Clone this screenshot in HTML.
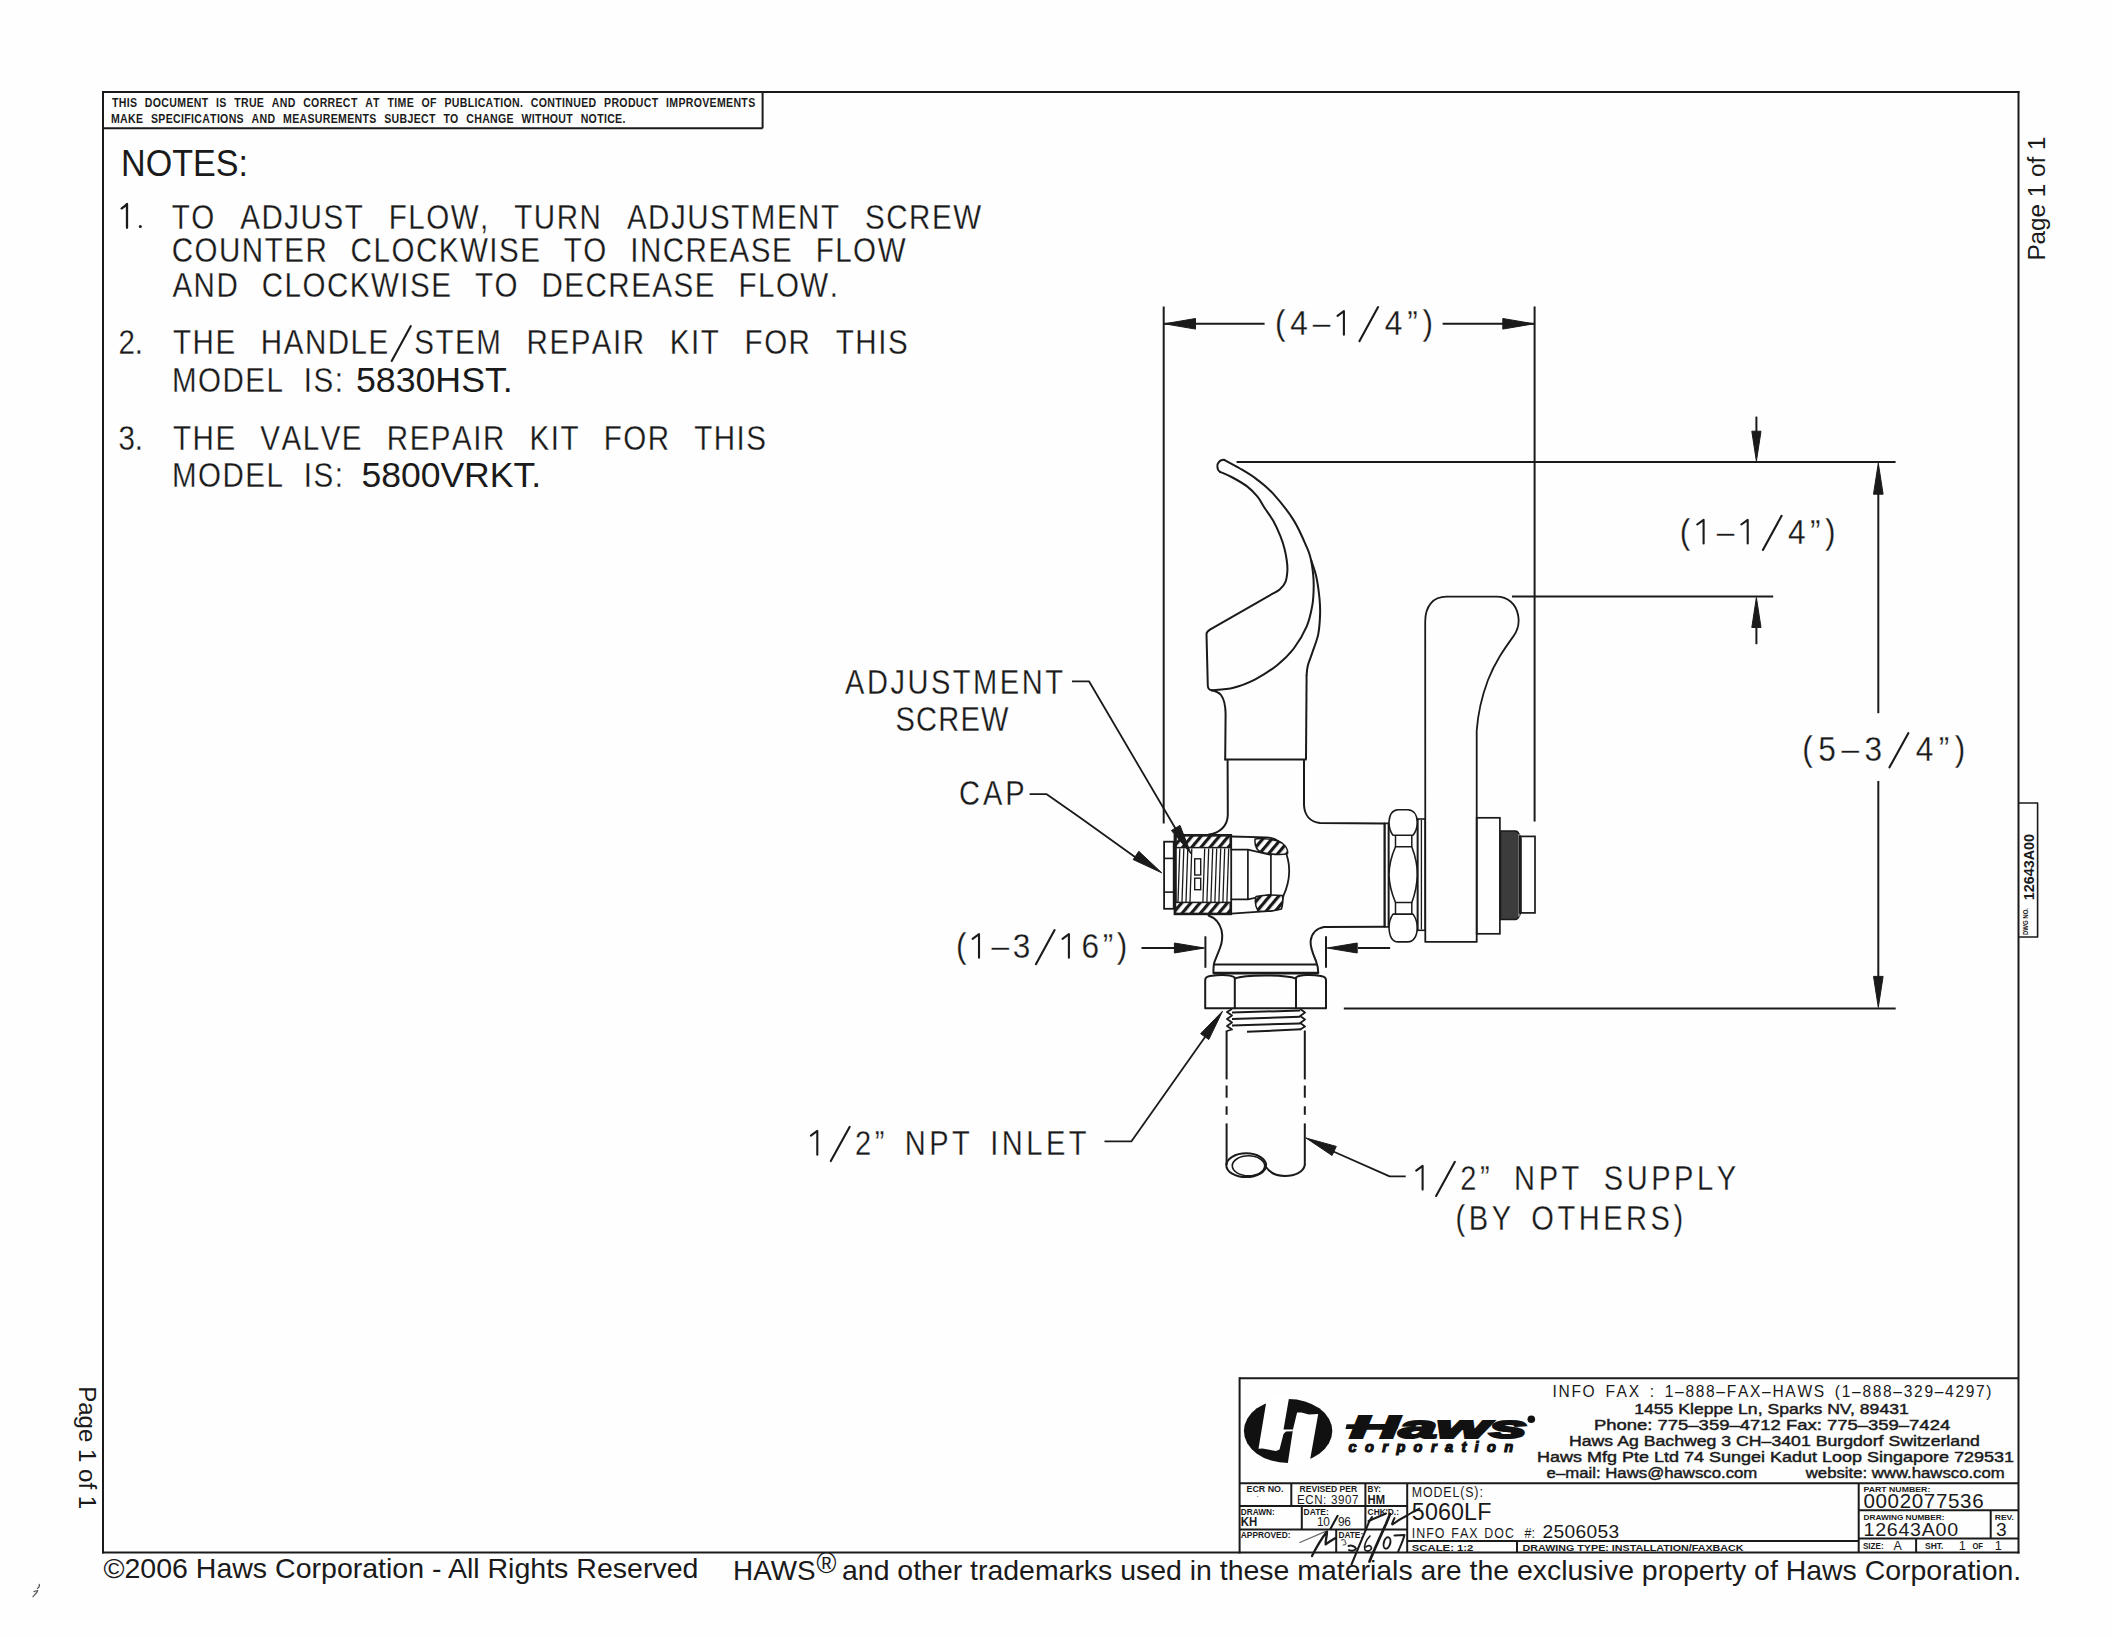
<!DOCTYPE html>
<html><head><meta charset="utf-8"><title>Haws 5060LF</title>
<style>
html,body{margin:0;padding:0;background:#fff;}
body{width:2112px;height:1637px;overflow:hidden;position:relative;font-family:"Liberation Sans",sans-serif;}
svg{position:absolute;left:0;top:0;display:block;}
</style></head><body>
<svg width="2112" height="1637" viewBox="0 0 2112 1637">
<rect x="0" y="0" width="2112" height="1637" fill="#fefefe"/>
<g id="frame">
<line x1="102" y1="92" x2="2019.5" y2="92" stroke="#1a1a1a" stroke-width="2.0" />
<line x1="103" y1="91" x2="103" y2="1553.5" stroke="#1a1a1a" stroke-width="2.0" />
<line x1="2018.5" y1="91" x2="2018.5" y2="1553.5" stroke="#1a1a1a" stroke-width="2.0" />
<line x1="102" y1="1552.5" x2="2019.5" y2="1552.5" stroke="#1a1a1a" stroke-width="2.0" />
<line x1="102.5" y1="128.3" x2="762.6" y2="128.3" stroke="#1a1a1a" stroke-width="2.0" />
<line x1="762.6" y1="91.5" x2="762.6" y2="128.3" stroke="#1a1a1a" stroke-width="2.0" />
</g>
<g transform="translate(112,106.5) scale(0.8,1)"><text x="0 8.5 18.4 22.4 41.1 51 61.7 71.6 81.6 93 102.1 112.1 130 134.1 152.7 161.2 171.1 181.1 199.7 209.7 219.6 239 248.9 259.6 269.5 279.4 288.6 298.6 316.5 326.4 344.4 352.8 356.9 368.3 386.9 397.6 415.6 424.7 434.7 444.6 453.1 457.1 467 477 485.4 489.5 500.1 510.1 523.6 533.5 544.2 554.1 562.6 566.6 576.5 586.5 595.7 615.1 624.3 634.2 644.9 654.8 664.7 674.6 692.6 696.6 708 717.2 727.1 737.8 747 756.2 767.6 776.8 786.7 795.2" y="0" font-family="Liberation Sans" font-size="13.2" font-weight="bold" font-style="normal" fill="#1a1a1a" >THISDOCUMENTISTRUEANDCORRECTATTIMEOFPUBLICATION.CONTINUEDPRODUCTIMPROVEMENTS</text></g>
<g transform="translate(111,122.8) scale(0.8,1)"><text x="0 11.4 21.3 31.2 50 59.2 68.4 77.6 87.5 91.6 100 104.1 114 123.9 132.4 136.4 147.1 157 175.7 185.7 195.6 215.1 226.5 235.7 245.6 254.8 264.7 274.6 283.8 295.2 304.4 314.4 322.8 341.6 350.7 360.7 370.6 378.3 387.5 397.5 415.5 423.9 444.1 454 464 473.9 483.8 494.5 513.2 526.1 530.1 538.6 548.5 559.2 569.1 587.1 597 607.7 616.2 620.2 630.1 639.3" y="0" font-family="Liberation Sans" font-size="13.2" font-weight="bold" font-style="normal" fill="#1a1a1a" >MAKESPECIFICATIONSANDMEASUREMENTSSUBJECTTOCHANGEWITHOUTNOTICE.</text></g>
<text x="121" y="175.8" font-family="Liberation Sans" font-size="37.2" font-weight="normal" font-style="normal" fill="#1a1a1a" text-anchor="start" textLength="127" lengthAdjust="spacingAndGlyphs" >NOTES:</text>
<path d="M121.6,208.4 C123.5,207.3 125.5,205.8 127,204 L127,227.8" fill="none" stroke="#1a1a1a" stroke-width="2.3" stroke-linejoin="round" stroke-linecap="round" />
<circle cx="140.3" cy="226.6" r="1.5" fill="#1a1a1a"/>
<g transform="translate(171.7,228.5) scale(0.84,1)"><text x="0 23.3 81.6 106.9 134.1 153.4 180.6 205.9 258.3 281.6 303 332.1 367.1 407.8 431.1 458.3 485.5 541.9 567.1 594.3 613.7 640.9 666.1 689.4 720.5 745.7 772.9 825.4 850.6 877.8 905 930.3" y="0" font-family="Liberation Sans" font-size="35.2" font-weight="normal" font-style="normal" fill="#1a1a1a" stroke="#fff" stroke-width="0.25" >TOADJUSTFLOW,TURNADJUSTMENTSCREW</text></g>
<g transform="translate(171.7,262.4) scale(0.84,1)"><text x="0 27.2 56.3 83.5 110.7 134 159.2 213 240.2 261.6 290.7 317.9 343.2 378.1 389.7 415 466.8 490.1 545.9 557.4 584.6 611.8 639 664.2 689.5 714.7 766.6 789.9 811.2 840.4" y="0" font-family="Liberation Sans" font-size="35.2" font-weight="normal" font-style="normal" fill="#1a1a1a" stroke="#fff" stroke-width="0.25" >COUNTERCLOCKWISETOINCREASEFLOW</text></g>
<g transform="translate(172.4,297) scale(0.84,1)"><text x="0 25.2 52.4 106.3 133.5 154.9 184 211.2 236.5 271.4 283 308.2 360.2 383.5 439.3 466.5 491.8 519 546.2 571.4 596.6 621.9 673.9 697.1 718.5 747.6 782.6" y="0" font-family="Liberation Sans" font-size="35.2" font-weight="normal" font-style="normal" fill="#1a1a1a" stroke="#fff" stroke-width="0.25" >ANDCLOCKWISETODECREASEFLOW.</text></g>
<g transform="translate(118.5,354.4) scale(0.84,1)"><text x="0 19.4" y="0" font-family="Liberation Sans" font-size="35.2" font-weight="normal" font-style="normal" fill="#1a1a1a" stroke="#fff" stroke-width="0.25" >2.</text></g>
<line x1="391.7" y1="360.9" x2="410.8" y2="326.1" stroke="#1a1a1a" stroke-width="2.1" stroke-linecap="round"/>
<g transform="translate(173,354.4) scale(0.84,1)"><text x="0 23.3 50.5 104.6 131.8 157.1 184.2 211.4 232.8 287.2 312.4 335.7 360.9 420.9 448.1 473.4 498.6 523.9 535.4 591.5 616.8 628.3 680.5 703.8 732.9 789 812.3 839.5 851.1" y="0" font-family="Liberation Sans" font-size="35.2" font-weight="normal" font-style="normal" fill="#1a1a1a" stroke="#fff" stroke-width="0.25" >THEHANDLESTEMREPAIRKITFORTHIS</text></g>
<g transform="translate(171.9,391.9) scale(0.84,1)"><text x="0 31.1 60.2 87.4 112.7 157 168.6 193.8" y="0" font-family="Liberation Sans" font-size="35.2" font-weight="normal" font-style="normal" fill="#1a1a1a" stroke="#fff" stroke-width="0.25" >MODELIS:</text></g>
<text x="355.9" y="392.3" font-family="Liberation Sans" font-size="34.9" font-weight="normal" font-style="normal" fill="#1a1a1a" text-anchor="start" textLength="156.9" lengthAdjust="spacingAndGlyphs" >5830HST.</text>
<g transform="translate(118.5,449.6) scale(0.84,1)"><text x="0 19.4" y="0" font-family="Liberation Sans" font-size="35.2" font-weight="normal" font-style="normal" fill="#1a1a1a" stroke="#fff" stroke-width="0.25" >3.</text></g>
<g transform="translate(173,449.6) scale(0.84,1)"><text x="0 23.3 50.5 103.9 129.2 154.4 175.8 201 254.5 281.7 306.9 332.2 357.4 369 424.4 449.6 461.2 512.7 535.9 565.1 620.5 643.7 670.9 682.5" y="0" font-family="Liberation Sans" font-size="35.2" font-weight="normal" font-style="normal" fill="#1a1a1a" stroke="#fff" stroke-width="0.25" >THEVALVEREPAIRKITFORTHIS</text></g>
<g transform="translate(171.9,486.6) scale(0.84,1)"><text x="0 31.1 60.2 87.4 112.7 157 168.6 193.8" y="0" font-family="Liberation Sans" font-size="35.2" font-weight="normal" font-style="normal" fill="#1a1a1a" stroke="#fff" stroke-width="0.25" >MODELIS:</text></g>
<text x="361.4" y="486.6" font-family="Liberation Sans" font-size="34.9" font-weight="normal" font-style="normal" fill="#1a1a1a" text-anchor="start" textLength="179.7" lengthAdjust="spacingAndGlyphs" >5800VRKT.</text>
<g transform="translate(2045.2,260.6) rotate(-90)">
<text x="0" y="0" font-family="Liberation Sans" font-size="24.4" font-weight="normal" font-style="normal" fill="#1a1a1a" text-anchor="start" textLength="124.2" lengthAdjust="spacingAndGlyphs" >Page 1 of 1</text>
</g>
<g transform="translate(79.3,1386.2) rotate(90)">
<text x="0" y="0" font-family="Liberation Sans" font-size="24.4" font-weight="normal" font-style="normal" fill="#1a1a1a" text-anchor="start" textLength="123" lengthAdjust="spacingAndGlyphs" >Page 1 of 1</text>
</g>
<text x="103.4" y="1577.6" font-family="Liberation Sans" font-size="27.8" font-weight="normal" font-style="normal" fill="#1a1a1a" text-anchor="start" textLength="595" lengthAdjust="spacingAndGlyphs" >©2006 Haws Corporation - All Rights Reserved</text>
<text x="733.1" y="1579.8" font-family="Liberation Sans" font-size="27.8" font-weight="normal" font-style="normal" fill="#1a1a1a" text-anchor="start" textLength="82.4" lengthAdjust="spacingAndGlyphs" >HAWS</text>
<text x="816.5" y="1572.7" font-family="Liberation Sans" font-size="29.2" font-weight="normal" font-style="normal" fill="#1a1a1a" text-anchor="start" textLength="19.9" lengthAdjust="spacingAndGlyphs" >®</text>
<text x="842" y="1579.8" font-family="Liberation Sans" font-size="27.8" font-weight="normal" font-style="normal" fill="#1a1a1a" text-anchor="start" textLength="1179.2" lengthAdjust="spacingAndGlyphs" >and other trademarks used in these materials are the exclusive property of Haws Corporation.</text>
<line x1="1163.7" y1="306.5" x2="1163.7" y2="823.4" stroke="#1a1a1a" stroke-width="2.0" />
<line x1="1534.6" y1="306.5" x2="1534.6" y2="821.5" stroke="#1a1a1a" stroke-width="2.0" />
<line x1="1163.7" y1="323.8" x2="1264.6" y2="323.8" stroke="#1a1a1a" stroke-width="2.0" />
<line x1="1442.6" y1="323.8" x2="1534.6" y2="323.8" stroke="#1a1a1a" stroke-width="2.0" />
<path d="M1164.5,323.8 L1195.5,318.5 L1195.5,329.1 Z" fill="#1a1a1a" stroke="#1a1a1a" stroke-width="1"/>
<path d="M1533.8,323.8 L1502.8,329.1 L1502.8,318.5 Z" fill="#1a1a1a" stroke="#1a1a1a" stroke-width="1"/>
<path d="M1337.5,315.8 L1343.9,311.1 L1343.9,334.8" fill="none" stroke="#1a1a1a" stroke-width="2.1" stroke-linecap="round" stroke-linejoin="round"/>
<line x1="1359.4" y1="341.2" x2="1378.1" y2="307.1" stroke="#1a1a1a" stroke-width="2.1" stroke-linecap="round"/>
<g transform="translate(1275,334.8) scale(0.92,1)"><text x="0 16.7 41 119.4 143.7 160.4" y="0" font-family="Liberation Sans" font-size="34.4" font-weight="normal" font-style="normal" fill="#1a1a1a" stroke="#fff" stroke-width="0.25" >(4–4”)</text></g>
<line x1="1236.6" y1="462.1" x2="1895.6" y2="462.1" stroke="#1a1a1a" stroke-width="2.0" />
<line x1="1512" y1="596.5" x2="1773.2" y2="596.5" stroke="#1a1a1a" stroke-width="2.0" />
<line x1="1756.4" y1="416.6" x2="1756.4" y2="440" stroke="#1a1a1a" stroke-width="2.0" />
<path d="M1756.4,461.2 L1751.8,431.2 L1761,431.2 Z" fill="#1a1a1a" stroke="#1a1a1a" stroke-width="1"/>
<line x1="1756.4" y1="620" x2="1756.4" y2="644.2" stroke="#1a1a1a" stroke-width="2.0" />
<path d="M1756.4,597.5 L1761,627.5 L1751.8,627.5 Z" fill="#1a1a1a" stroke="#1a1a1a" stroke-width="1"/>
<path d="M1697.2,524.5 L1703.6,519.8 L1703.6,543.5" fill="none" stroke="#1a1a1a" stroke-width="2.1" stroke-linecap="round" stroke-linejoin="round"/>
<path d="M1741.3,524.5 L1747.7,519.8 L1747.7,543.5" fill="none" stroke="#1a1a1a" stroke-width="2.1" stroke-linecap="round" stroke-linejoin="round"/>
<line x1="1762.9" y1="549.9" x2="1781.6" y2="515.8" stroke="#1a1a1a" stroke-width="2.1" stroke-linecap="round"/>
<g transform="translate(1679.8,543.5) scale(0.92,1)"><text x="0 40.3 117.5 141.5 157.8" y="0" font-family="Liberation Sans" font-size="34.4" font-weight="normal" font-style="normal" fill="#1a1a1a" stroke="#fff" stroke-width="0.25" >(–4”)</text></g>
<line x1="1878.3" y1="480" x2="1878.3" y2="713.2" stroke="#1a1a1a" stroke-width="2.0" />
<path d="M1878.3,463.2 L1883.1,494.2 L1873.5,494.2 Z" fill="#1a1a1a" stroke="#1a1a1a" stroke-width="1"/>
<line x1="1878.3" y1="781" x2="1878.3" y2="990" stroke="#1a1a1a" stroke-width="2.0" />
<path d="M1878.3,1007.4 L1873.5,976.4 L1883.1,976.4 Z" fill="#1a1a1a" stroke="#1a1a1a" stroke-width="1"/>
<line x1="1889.5" y1="767.3" x2="1908.3" y2="733.2" stroke="#1a1a1a" stroke-width="2.1" stroke-linecap="round"/>
<g transform="translate(1802.2,760.9) scale(0.92,1)"><text x="0 17.5 42.6 67.7 123.3 148.5 165.9" y="0" font-family="Liberation Sans" font-size="34.4" font-weight="normal" font-style="normal" fill="#1a1a1a" stroke="#fff" stroke-width="0.25" >(5–34”)</text></g>
<line x1="1343.8" y1="1008.4" x2="1895.7" y2="1008.4" stroke="#1a1a1a" stroke-width="2.0" />
<path d="M1224.3,459.9 C1226.9,461.3 1234.6,465.3 1240,468.5 C1245.4,471.7 1251,474.9 1256.5,479.1 C1262,483.3 1266.9,486.7 1273.1,493.6 C1279.3,500.5 1288.2,511.4 1293.9,520.6 C1299.6,529.8 1304.5,542.1 1307.4,548.7 C1310.3,555.3 1309.6,555.3 1311.1,560 C1312.6,564.7 1314.9,570.3 1316.3,576.7 C1317.7,583.1 1318.9,592.3 1319.5,598.5 C1320.1,604.7 1320.3,607.9 1320.1,613.9 C1319.9,619.9 1319.5,628 1318.2,634.4 C1316.9,640.8 1314.1,647.3 1312.4,652.4 C1310.7,657.5 1308.9,661.4 1307.9,665.2 C1306.9,669 1306.8,673.4 1306.6,675" fill="none" stroke="#1a1a1a" stroke-width="2.0" stroke-linejoin="round" stroke-linecap="round" />
<line x1="1306.6" y1="675" x2="1306" y2="759.5" stroke="#1a1a1a" stroke-width="2.0" />
<path d="M1224.3,459.9 C1220,459.5 1217,463 1217.4,467 C1217.7,470 1219,471.3 1220.1,471.8" fill="none" stroke="#1a1a1a" stroke-width="2.0" stroke-linejoin="round" stroke-linecap="round" />
<path d="M1220.1,471.8 C1222,472.7 1227,474.6 1231.5,477 C1236,479.4 1242.8,483.1 1247.1,486.4 C1251.4,489.7 1254.5,493.1 1257.5,496.7 C1260.5,500.3 1262.2,504.2 1264.8,508.2 C1267.4,512.2 1270.5,515.9 1273.1,520.6 C1275.7,525.3 1278.5,531.5 1280.4,536.2 C1282.3,540.9 1283.5,544.7 1284.5,548.7 C1285.5,552.7 1286.2,556.4 1286.7,560 C1287.2,563.6 1287.6,566.7 1287.4,570.3 C1287.2,573.9 1286.8,578.6 1285.5,581.8 C1284.2,585 1282,587.5 1279.7,589.5 C1277.5,591.5 1273.3,593.2 1272,594" fill="none" stroke="#1a1a1a" stroke-width="2.0" stroke-linejoin="round" stroke-linecap="round" />
<line x1="1272" y1="594" x2="1210.4" y2="629.3" stroke="#1a1a1a" stroke-width="2.0" />
<path d="M1210.4,629.3 C1207.5,631 1206.5,632 1206.5,634 L1207.8,685.8 C1208,688.5 1209,690 1211.5,690.2" fill="none" stroke="#1a1a1a" stroke-width="2.0" stroke-linejoin="round" stroke-linecap="round" />
<path d="M1211.5,690.2 C1215.2,689.8 1226.2,689.5 1233.5,687.7 C1240.8,685.9 1248,683 1255.3,679.3 C1262.6,675.5 1270.7,670.3 1277.1,665.2 C1283.5,660.1 1288.9,654.9 1293.8,648.5 C1298.7,642.1 1303.5,634 1306.6,626.7 C1309.7,619.4 1311.2,611.7 1312.4,604.9 C1313.6,598.1 1313.6,591.1 1313.7,585.7 C1313.8,580.4 1313.4,577.1 1313,572.8 C1312.6,568.5 1311.4,562.1 1311.1,560" fill="none" stroke="#1a1a1a" stroke-width="2.0" stroke-linejoin="round" stroke-linecap="round" />
<path d="M1211.5,690.2 C1216,691 1219,692.5 1221,695 C1224,699 1225.5,705 1225.6,714 L1225.2,759.5" fill="none" stroke="#1a1a1a" stroke-width="2.0" stroke-linejoin="round" stroke-linecap="round" />
<line x1="1224.5" y1="759.5" x2="1306.6" y2="759.5" stroke="#1a1a1a" stroke-width="2.0" />
<path d="M1227.6,760.5 L1227.8,815 C1227.5,826 1220,833 1209,834.6" fill="none" stroke="#1a1a1a" stroke-width="2.0" stroke-linejoin="round" stroke-linecap="round" />
<path d="M1304,760.5 L1304,805 C1304.5,815 1310,822 1320,823 L1384.6,823.4" fill="none" stroke="#1a1a1a" stroke-width="2.0" stroke-linejoin="round" stroke-linecap="round" />
<line x1="1384.6" y1="823.4" x2="1384.6" y2="927" stroke="#1a1a1a" stroke-width="2.0" />
<path d="M1384.6,926.7 L1324,926.9 C1317,928 1311.5,933 1310.6,941 C1310.2,948 1313,954 1316,961 C1317.5,965 1318.3,968 1318.3,973" fill="none" stroke="#1a1a1a" stroke-width="2.0" stroke-linejoin="round" stroke-linecap="round" />
<path d="M1208.6,915.5 C1214,917.5 1219,921 1221.5,930 C1223,937 1222,943 1220,948 L1214.4,962.1 C1213.6,965 1213.4,968 1213.4,973" fill="none" stroke="#1a1a1a" stroke-width="2.0" stroke-linejoin="round" stroke-linecap="round" />
<line x1="1213.9" y1="964.6" x2="1316.8" y2="964.6" stroke="#1a1a1a" stroke-width="2.0" />
<line x1="1213.4" y1="972.8" x2="1318.3" y2="972.8" stroke="#1a1a1a" stroke-width="2.0" />
<path d="M1205.2,1008.2 L1205.2,980 C1205.2,977.5 1207,976.5 1210,976 C1220,974.5 1230,974.5 1234.8,977.5 L1234.8,1008.2" fill="none" stroke="#1a1a1a" stroke-width="2.0" stroke-linejoin="round" stroke-linecap="round" />
<path d="M1234.8,978.6 C1245,974.5 1285,974.5 1296,978.6" fill="none" stroke="#1a1a1a" stroke-width="2.0" stroke-linejoin="round" stroke-linecap="round" />
<path d="M1296,1008.2 L1296,977.5 C1300,974.5 1312,974.5 1321,976 C1324,976.5 1326,977.5 1326,980 L1326,1008.2" fill="none" stroke="#1a1a1a" stroke-width="2.0" stroke-linejoin="round" stroke-linecap="round" />
<line x1="1205.2" y1="1008.2" x2="1326" y2="1008.2" stroke="#1a1a1a" stroke-width="2.0" />
<line x1="1213.4" y1="973.8" x2="1318.3" y2="973.8" stroke="#1a1a1a" stroke-width="1.5" />
<path d="M1232,1009 L1227,1012 L1232,1015.5 L1227,1019 L1232,1022.5 L1227,1026 L1232,1029.5 L1227,1031" fill="none" stroke="#1a1a1a" stroke-width="1.8" stroke-linejoin="round"/>
<path d="M1300.2,1009 L1305,1012.5 L1300.2,1016 L1305,1019.5 L1300.2,1023 L1305,1026.5 L1300.2,1029.5" fill="none" stroke="#1a1a1a" stroke-width="1.8" stroke-linejoin="round"/>
<line x1="1232" y1="1012.4" x2="1300.2" y2="1010.6" stroke="#1a1a1a" stroke-width="2.0" />
<line x1="1232" y1="1019" x2="1300.2" y2="1016.8" stroke="#1a1a1a" stroke-width="2.0" />
<line x1="1232" y1="1025.6" x2="1300.2" y2="1023.4" stroke="#1a1a1a" stroke-width="2.0" />
<line x1="1247" y1="1031.8" x2="1301.4" y2="1029.3" stroke="#1a1a1a" stroke-width="2.0" />
<line x1="1226.6" y1="1030.5" x2="1226.6" y2="1079.4" stroke="#1a1a1a" stroke-width="2.0" />
<line x1="1226.6" y1="1085.5" x2="1226.6" y2="1097.7" stroke="#1a1a1a" stroke-width="2.0" />
<line x1="1226.6" y1="1106.3" x2="1226.6" y2="1114.8" stroke="#1a1a1a" stroke-width="2.0" />
<line x1="1226.6" y1="1123.4" x2="1226.6" y2="1165" stroke="#1a1a1a" stroke-width="2.0" />
<line x1="1304.8" y1="1030.5" x2="1304.8" y2="1079.4" stroke="#1a1a1a" stroke-width="2.0" />
<line x1="1304.8" y1="1085.5" x2="1304.8" y2="1097.7" stroke="#1a1a1a" stroke-width="2.0" />
<line x1="1304.8" y1="1106.3" x2="1304.8" y2="1114.8" stroke="#1a1a1a" stroke-width="2.0" />
<line x1="1304.8" y1="1123.4" x2="1304.8" y2="1165" stroke="#1a1a1a" stroke-width="2.0" />
<ellipse cx="1246.2" cy="1165.2" rx="19.9" ry="11.9" fill="none" stroke="#1a1a1a" stroke-width="2"/>
<ellipse cx="1248.5" cy="1165.8" rx="16.2" ry="10" fill="none" stroke="#1a1a1a" stroke-width="1.6"/>
<path d="M1266,1167 C1270,1173 1277,1176 1285,1176 C1295,1176 1303.5,1172 1304.8,1165" fill="none" stroke="#1a1a1a" stroke-width="2.0" stroke-linejoin="round" stroke-linecap="round" />
<rect x="1164.1" y="841.7" width="9.6" height="67.1" fill="none" stroke="#1a1a1a" stroke-width="1.8"/>
<line x1="1164.1" y1="858.4" x2="1173.7" y2="858.4" stroke="#1a1a1a" stroke-width="1.6" />
<line x1="1164.1" y1="892.1" x2="1173.7" y2="892.1" stroke="#1a1a1a" stroke-width="1.6" />
<rect x="1174.5" y="834.9" width="56.7" height="79.4" fill="none" stroke="#1a1a1a" stroke-width="1.8"/>
<defs><pattern id="hatch" patternUnits="userSpaceOnUse" width="7" height="7" patternTransform="rotate(40)"><rect width="7" height="7" fill="#fff"/><rect x="0" y="0" width="3.2" height="7" fill="#1a1a1a"/></pattern>
<pattern id="knurl" patternUnits="userSpaceOnUse" width="2" height="4"><rect width="2" height="4" fill="#777"/><rect x="0" y="0" width="1.2" height="4" fill="#1a1a1a"/></pattern></defs>
<rect x="1175.5" y="835.9" width="54.7" height="11.7" fill="url(#hatch)" stroke="#1a1a1a" stroke-width="1.5"/>
<rect x="1175.5" y="902.4" width="54.7" height="11" fill="url(#hatch)" stroke="#1a1a1a" stroke-width="1.5"/>
<line x1="1175.5" y1="835" x2="1175.5" y2="902.4" stroke="#1a1a1a" stroke-width="2.6" />
<line x1="1179.8" y1="848.5" x2="1178" y2="902" stroke="#1a1a1a" stroke-width="1.3" />
<line x1="1183.8" y1="848.5" x2="1182" y2="902" stroke="#1a1a1a" stroke-width="1.3" />
<line x1="1187.8" y1="848.5" x2="1186" y2="902" stroke="#1a1a1a" stroke-width="1.3" />
<line x1="1191.8" y1="848.5" x2="1190" y2="902" stroke="#1a1a1a" stroke-width="1.3" />
<rect x="1194.7" y="858.8" width="6" height="16.2" fill="none" stroke="#1a1a1a" stroke-width="1.4"/>
<rect x="1194.7" y="878.2" width="6" height="11.5" fill="none" stroke="#1a1a1a" stroke-width="1.4"/>
<line x1="1204.7" y1="848.5" x2="1202.9" y2="902" stroke="#1a1a1a" stroke-width="1.3" />
<line x1="1208.7" y1="848.5" x2="1206.9" y2="902" stroke="#1a1a1a" stroke-width="1.3" />
<line x1="1212.7" y1="848.5" x2="1210.9" y2="902" stroke="#1a1a1a" stroke-width="1.3" />
<line x1="1216.7" y1="848.5" x2="1214.9" y2="902" stroke="#1a1a1a" stroke-width="1.3" />
<line x1="1220.7" y1="848.5" x2="1218.9" y2="902" stroke="#1a1a1a" stroke-width="1.3" />
<line x1="1224.7" y1="848.5" x2="1222.9" y2="902" stroke="#1a1a1a" stroke-width="1.3" />
<line x1="1228.7" y1="848.5" x2="1226.9" y2="902" stroke="#1a1a1a" stroke-width="1.3" />
<path d="M1231.2,849.6 L1247.9,849.6 L1270.9,854.8 M1231.2,899.3 L1247.9,899.3 L1270.9,894.5" fill="none" stroke="#1a1a1a" stroke-width="1.7" stroke-linejoin="round" stroke-linecap="round" />
<line x1="1247.9" y1="849.6" x2="1247.9" y2="899.3" stroke="#1a1a1a" stroke-width="1.7" />
<line x1="1270.9" y1="854.8" x2="1270.9" y2="894.5" stroke="#1a1a1a" stroke-width="1.7" />
<path d="M1231.2,836.5 L1266.2,837.3 C1276,838 1282,843 1284.5,849.2 C1287.5,856 1289.3,864 1289.2,871.5 C1289,880 1287,888 1283.6,895.3 C1282,900 1282.5,904 1282,906.4 C1278,910 1272,911 1267.8,911.2 L1231.2,913.6" fill="none" stroke="#1a1a1a" stroke-width="1.8" stroke-linejoin="round" stroke-linecap="round" />
<path d="M1255,839 C1262,838 1275,839 1282,843 C1286,846 1288,850 1287.6,853.5 C1282,855.5 1272,854.5 1262,852.5 C1257,851 1254.5,846 1255,839 Z" fill="url(#hatch)" stroke="#1a1a1a" stroke-width="1.5" stroke-linejoin="round" stroke-linecap="round" />
<path d="M1256,896.5 C1262,895 1272,894.5 1282.5,895.5 C1283,900 1282.5,905 1281.5,909 C1275,911 1265,911.5 1258,911 C1255,906 1255,900 1256,896.5 Z" fill="url(#hatch)" stroke="#1a1a1a" stroke-width="1.5" stroke-linejoin="round" stroke-linecap="round" />
<rect x="1384.6" y="823.4" width="4" height="103.5" fill="none" stroke="#1a1a1a" stroke-width="1.6"/>
<line x1="1388.6" y1="822" x2="1388.6" y2="928" stroke="#1a1a1a" stroke-width="1.6" />
<line x1="1417.6" y1="819" x2="1417.6" y2="931" stroke="#1a1a1a" stroke-width="1.6" />
<path d="M1393,835.2 C1389.5,831 1389,826 1389,822 C1389.5,814 1393,810 1398,809.7 L1408,809.7 C1413,810 1417,814 1417.3,822 C1417.3,826 1416.5,831 1413,835.2 Z" fill="#fff" stroke="#1a1a1a" stroke-width="1.6" stroke-linejoin="round" stroke-linecap="round" />
<line x1="1395.5" y1="835.2" x2="1395.5" y2="846.8" stroke="#1a1a1a" stroke-width="1.5" />
<line x1="1411.8" y1="835.2" x2="1411.8" y2="846.8" stroke="#1a1a1a" stroke-width="1.5" />
<path d="M1395.5,846.8 L1411.8,846.8 C1416,858 1417.5,868 1417.3,875 C1417,884 1415.5,893 1411.8,902.5 L1395.5,902.5 C1391.5,893 1389.2,884 1389,875 C1389,866 1391,857 1395.5,846.8 Z" fill="#fff" stroke="#1a1a1a" stroke-width="1.6" stroke-linejoin="round" stroke-linecap="round" />
<line x1="1395.5" y1="902.5" x2="1395.5" y2="914.1" stroke="#1a1a1a" stroke-width="1.5" />
<line x1="1411.8" y1="902.5" x2="1411.8" y2="914.1" stroke="#1a1a1a" stroke-width="1.5" />
<path d="M1393,914.1 C1389.5,919 1389,924 1389,928 C1389.5,937 1393,941.9 1398,941.9 L1408,941.9 C1413,941.9 1417,937 1417.3,928 C1417.3,924 1416.5,919 1413,914.1 Z" fill="#fff" stroke="#1a1a1a" stroke-width="1.6" stroke-linejoin="round" stroke-linecap="round" />
<rect x="1417.6" y="819" width="7.6" height="111.3" fill="none" stroke="#1a1a1a" stroke-width="1.6"/>
<line x1="1421.4" y1="820" x2="1421.4" y2="929.3" stroke="#1a1a1a" stroke-width="1.3" />
<path d="M1425.3,941.9 L1425.2,621.8 C1425.2,606 1433,596.7 1446.6,596.7 L1496.4,596.7 C1508,596.7 1516,604 1518,614.8 C1519.5,622 1518.5,629 1513.8,635.7 C1505,648 1495.3,661.2 1488,680 C1482,696 1478,712 1476.7,730.8 L1476.7,941.9 Z" fill="none" stroke="#1a1a1a" stroke-width="1.8" stroke-linejoin="round" stroke-linecap="round" />
<rect x="1476.7" y="817.8" width="23.2" height="116" fill="none" stroke="#1a1a1a" stroke-width="1.7"/>
<path d="M1500.5,831 L1515.5,831 C1517,831 1518,832 1519,834 L1521,838 L1521,912 L1519,916.5 C1518,918.5 1517,919.5 1515.5,919.5 L1500.5,919.5 Z" fill="#3c3c3c" stroke="#1a1a1a" stroke-width="1.6" stroke-linejoin="round" stroke-linecap="round" />
<line x1="1519" y1="834" x2="1519" y2="916.5" stroke="#bbb" stroke-width="1.2" />
<rect x="1519.6" y="836.4" width="15.4" height="76.5" fill="none" stroke="#1a1a1a" stroke-width="1.7"/>
<line x1="1205.4" y1="936.3" x2="1205.4" y2="967.8" stroke="#1a1a1a" stroke-width="2.0" />
<line x1="1326" y1="936.3" x2="1326" y2="967.8" stroke="#1a1a1a" stroke-width="2.0" />
<line x1="1141.5" y1="948" x2="1203" y2="948" stroke="#1a1a1a" stroke-width="2.0" />
<path d="M1204.4,948 L1174.4,953 L1174.4,943 Z" fill="#1a1a1a" stroke="#1a1a1a" stroke-width="1"/>
<line x1="1358" y1="948" x2="1390.1" y2="948" stroke="#1a1a1a" stroke-width="2.0" />
<path d="M1327.2,948 L1357.2,943 L1357.2,953 Z" fill="#1a1a1a" stroke="#1a1a1a" stroke-width="1"/>
<path d="M972.6,938.8 L979,934.1 L979,957.8" fill="none" stroke="#1a1a1a" stroke-width="2.1" stroke-linecap="round" stroke-linejoin="round"/>
<line x1="1035.9" y1="964.2" x2="1054.6" y2="930.1" stroke="#1a1a1a" stroke-width="2.1" stroke-linecap="round"/>
<path d="M1062.5,938.8 L1068.9,934.1 L1068.9,957.8" fill="none" stroke="#1a1a1a" stroke-width="2.1" stroke-linecap="round" stroke-linejoin="round"/>
<g transform="translate(956,957.8) scale(0.92,1)"><text x="0 38.5 61.6 136.3 159.4 174.8" y="0" font-family="Liberation Sans" font-size="34.4" font-weight="normal" font-style="normal" fill="#1a1a1a" stroke="#fff" stroke-width="0.25" >(–36”)</text></g>
<g transform="translate(845.1,694) scale(0.84,1)"><text x="0 26 54 74.3 102.2 128.3 152.4 184.2 210.2 238.2" y="0" font-family="Liberation Sans" font-size="34.6" font-weight="normal" font-style="normal" fill="#1a1a1a" stroke="#fff" stroke-width="0.25" >ADJUSTMENT</text></g>
<g transform="translate(895.5,730.6) scale(0.84,1)"><text x="0 24.5 50.9 77.3 101.8" y="0" font-family="Liberation Sans" font-size="34.6" font-weight="normal" font-style="normal" fill="#1a1a1a" stroke="#fff" stroke-width="0.25" >SCREW</text></g>
<path d="M1072,681.3 L1089,681.3 L1184,843" fill="none" stroke="#1a1a1a" stroke-width="1.8" stroke-linejoin="round"/>
<path d="M1191,853.8 L1171.4,830.5 L1180,825.4 Z" fill="#1a1a1a" stroke="#1a1a1a" stroke-width="1"/>
<g transform="translate(959,804.8) scale(0.84,1)"><text x="0 28.5 55" y="0" font-family="Liberation Sans" font-size="34.6" font-weight="normal" font-style="normal" fill="#1a1a1a" stroke="#fff" stroke-width="0.25" >CAP</text></g>
<path d="M1029.6,794.2 L1046.7,794.2 L1081,818.3 L1135,857" fill="none" stroke="#1a1a1a" stroke-width="1.8" stroke-linejoin="round"/>
<path d="M1161.7,872.8 L1133.2,859.6 L1138.8,851.3 Z" fill="#1a1a1a" stroke="#1a1a1a" stroke-width="1"/>
<path d="M810.9,1135.7 L817.3,1130.9 L817.3,1154.7" fill="none" stroke="#1a1a1a" stroke-width="2.1" stroke-linecap="round" stroke-linejoin="round"/>
<line x1="830.8" y1="1161.1" x2="849.6" y2="1126.9" stroke="#1a1a1a" stroke-width="2.1" stroke-linecap="round"/>
<g transform="translate(809.2,1154.7) scale(0.84,1)"><text x="54.5 77.9 113.7 142.9 170.1 215.5 229.3 258.5 281.9 309.1" y="0" font-family="Liberation Sans" font-size="34.6" font-weight="normal" font-style="normal" fill="#1a1a1a" stroke="#fff" stroke-width="0.25" >2”NPTINLET</text></g>
<path d="M1104.5,1141.4 L1131.3,1141.4 L1210,1030" fill="none" stroke="#1a1a1a" stroke-width="1.8" stroke-linejoin="round"/>
<path d="M1222.5,1011.2 L1208.8,1039.5 L1200.6,1033.7 Z" fill="#1a1a1a" stroke="#1a1a1a" stroke-width="1"/>
<path d="M1416.2,1170.6 L1422.6,1165.8 L1422.6,1189.6" fill="none" stroke="#1a1a1a" stroke-width="2.1" stroke-linecap="round" stroke-linejoin="round"/>
<line x1="1436.1" y1="1196" x2="1454.9" y2="1161.8" stroke="#1a1a1a" stroke-width="2.1" stroke-linecap="round"/>
<g transform="translate(1414.5,1189.6) scale(0.84,1)"><text x="54.5 77.9 118.6 147.8 175 225.4 252.6 281.8 309 336.3 359.7" y="0" font-family="Liberation Sans" font-size="34.6" font-weight="normal" font-style="normal" fill="#1a1a1a" stroke="#fff" stroke-width="0.25" >2”NPTSUPPLY</text></g>
<g transform="translate(1455.6,1229.5) scale(0.84,1)"><text x="0 15.7 42.9 90.2 121.2 146.5 175.7 202.9 232.1 259.3" y="0" font-family="Liberation Sans" font-size="34.6" font-weight="normal" font-style="normal" fill="#1a1a1a" stroke="#fff" stroke-width="0.25" >(BYOTHERS)</text></g>
<path d="M1405.7,1176.4 L1389.6,1176.4 L1330,1150" fill="none" stroke="#1a1a1a" stroke-width="1.8" stroke-linejoin="round"/>
<path d="M1306,1138 L1336.3,1146.4 L1332.1,1155.5 Z" fill="#1a1a1a" stroke="#1a1a1a" stroke-width="1"/>
<path d="M2018.6,803 L2037.6,803 L2037.6,937 L2018.6,937" fill="none" stroke="#1a1a1a" stroke-width="1.6" stroke-linejoin="round"/>
<g transform="translate(2033.5,900.3) rotate(-90)">
<text x="0" y="0" font-family="Liberation Sans" font-size="14.2" font-weight="bold" font-style="normal" fill="#1a1a1a" text-anchor="start" textLength="66.3" lengthAdjust="spacingAndGlyphs" >12643A00</text>
</g>
<g transform="translate(2028,935) rotate(-90)">
<text x="0" y="0" font-family="Liberation Sans" font-size="6.5" font-weight="bold" font-style="normal" fill="#1a1a1a" text-anchor="start" textLength="27" lengthAdjust="spacingAndGlyphs" >DWG NO.</text>
</g>
<line x1="1239.6" y1="1378.2" x2="2018.6" y2="1378.2" stroke="#1a1a1a" stroke-width="2.0" />
<line x1="1239.6" y1="1377.2" x2="1239.6" y2="1553.5" stroke="#1a1a1a" stroke-width="2.0" />
<line x1="1239.6" y1="1483.3" x2="2018.6" y2="1483.3" stroke="#1a1a1a" stroke-width="2.0" />
<line x1="1239.6" y1="1505.9" x2="1407.2" y2="1505.9" stroke="#1a1a1a" stroke-width="2.0" />
<line x1="1239.6" y1="1529.4" x2="1407.2" y2="1529.4" stroke="#1a1a1a" stroke-width="2.0" />
<line x1="1291.3" y1="1483.3" x2="1291.3" y2="1505.9" stroke="#1a1a1a" stroke-width="2.0" />
<line x1="1365.4" y1="1483.3" x2="1365.4" y2="1529.4" stroke="#1a1a1a" stroke-width="2.0" />
<line x1="1301.8" y1="1505.9" x2="1301.8" y2="1529.4" stroke="#1a1a1a" stroke-width="2.0" />
<line x1="1336.2" y1="1529.4" x2="1336.2" y2="1552.5" stroke="#1a1a1a" stroke-width="2.0" />
<line x1="1407.2" y1="1483.3" x2="1407.2" y2="1552.5" stroke="#1a1a1a" stroke-width="2.0" />
<line x1="1407.2" y1="1541" x2="1858.7" y2="1541" stroke="#1a1a1a" stroke-width="2.0" />
<line x1="1517" y1="1541" x2="1517" y2="1552.5" stroke="#1a1a1a" stroke-width="2.0" />
<line x1="1858.7" y1="1483.3" x2="1858.7" y2="1552.5" stroke="#1a1a1a" stroke-width="2.0" />
<line x1="1858.7" y1="1510.2" x2="2018.6" y2="1510.2" stroke="#1a1a1a" stroke-width="2.0" />
<line x1="1858.7" y1="1538.6" x2="2018.6" y2="1538.6" stroke="#1a1a1a" stroke-width="2.0" />
<line x1="1990.7" y1="1510.2" x2="1990.7" y2="1538.6" stroke="#1a1a1a" stroke-width="2.0" />
<line x1="1916.1" y1="1538.6" x2="1916.1" y2="1552.5" stroke="#1a1a1a" stroke-width="2.0" />
<ellipse cx="1288.1" cy="1431" rx="44.2" ry="32" fill="#111"/>
<path d="M1265.9,1395 L1265.9,1404.2 L1258.5,1448.7 L1262.4,1448.4 L1276.1,1451.1 L1279.5,1449.6 L1283.5,1434 L1285.9,1431.5 L1292.7,1431.3 L1293,1429.6 L1283.5,1429.6 L1288.8,1399.3 L1288.8,1395 Z" fill="#fff"/>
<path d="M1287.9,1466 L1287.9,1462.8 L1292.7,1431.3 L1293.2,1428.6 L1297.1,1412.5 L1301.5,1412.5 L1308.9,1414.4 L1318.2,1414 L1310.3,1458.4 L1310.3,1466 Z" fill="#fff"/>
<g transform="translate(1352,1438.8) skewX(-14)">
<rect x="-9" y="-14.6" width="52" height="4.8" fill="#111"/>
</g>
<text x="1350" y="1438.4" font-family="Liberation Sans" font-size="30.8" font-weight="bold" font-style="italic" fill="#111" text-anchor="start" textLength="177" lengthAdjust="spacingAndGlyphs" stroke="#111" stroke-width="2.2" >Haws</text>
<circle cx="1531.3" cy="1419.2" r="3.8" fill="#111"/>
<g transform="translate(1348.6,1451.6) scale(1.0,1)"><text x="0 16.5 33.7 47.8 65 82.3 96.3 112.8 126 138.5 155.7" y="0" font-family="Liberation Sans" font-size="14.5" font-weight="bold" font-style="italic" fill="#111" stroke="#111" stroke-width="1.2" >corporation</text></g>
<g transform="translate(1552.5,1396.8) scale(0.95,1)"><text x="0 6.3 19.9 31.7 55.7 67.5 80.2 102.3 118.1 129 139.9 150.8 161.6 172.5 183.4 195.2 207.9 220.6 231.5 245.1 257.8 275 297.2 304.4 315.3 326.2 337 347.9 358.8 369.7 380.6 391.5 402.3 413.2 424.1 435 445.9 456.7" y="0" font-family="Liberation Sans" font-size="16.4" font-weight="normal" font-style="normal" fill="#1a1a1a" >INFOFAX:1–888–FAX–HAWS(1–888–329–4297)</text></g>
<text x="1634.2" y="1413.9" font-family="Liberation Sans" font-size="15.1" font-weight="normal" font-style="normal" fill="#1a1a1a" text-anchor="start" textLength="274.6" lengthAdjust="spacingAndGlyphs" stroke="#1a1a1a" stroke-width="0.45" >1455 Kleppe Ln, Sparks NV, 89431</text>
<text x="1593.9" y="1430" font-family="Liberation Sans" font-size="15.1" font-weight="normal" font-style="normal" fill="#1a1a1a" text-anchor="start" textLength="356.3" lengthAdjust="spacingAndGlyphs" stroke="#1a1a1a" stroke-width="0.45" >Phone:  775–359–4712  Fax:  775–359–7424</text>
<text x="1569" y="1445.8" font-family="Liberation Sans" font-size="15.1" font-weight="normal" font-style="normal" fill="#1a1a1a" text-anchor="start" textLength="410.8" lengthAdjust="spacingAndGlyphs" stroke="#1a1a1a" stroke-width="0.45" >Haws Ag Bachweg 3 CH–3401 Burgdorf Switzerland</text>
<text x="1537.1" y="1461.7" font-family="Liberation Sans" font-size="15.1" font-weight="normal" font-style="normal" fill="#1a1a1a" text-anchor="start" textLength="477" lengthAdjust="spacingAndGlyphs" stroke="#1a1a1a" stroke-width="0.45" >Haws Mfg Pte Ltd 74 Sungei Kadut Loop Singapore 729531</text>
<text x="1546.6" y="1477.8" font-family="Liberation Sans" font-size="15.1" font-weight="normal" font-style="normal" fill="#1a1a1a" text-anchor="start" textLength="210.7" lengthAdjust="spacingAndGlyphs" stroke="#1a1a1a" stroke-width="0.45" >e–mail:  Haws@hawsco.com</text>
<text x="1805.8" y="1477.8" font-family="Liberation Sans" font-size="15.1" font-weight="normal" font-style="normal" fill="#1a1a1a" text-anchor="start" textLength="198.9" lengthAdjust="spacingAndGlyphs" stroke="#1a1a1a" stroke-width="0.45" >website:  www.hawsco.com</text>
<text x="1246.5" y="1491.5" font-family="Liberation Sans" font-size="9.2" font-weight="bold" font-style="normal" fill="#1a1a1a" text-anchor="start" textLength="37" lengthAdjust="spacingAndGlyphs" >ECR NO.</text>
<text x="1299.6" y="1491.5" font-family="Liberation Sans" font-size="9.2" font-weight="bold" font-style="normal" fill="#1a1a1a" text-anchor="start" textLength="57.5" lengthAdjust="spacingAndGlyphs" >REVISED PER</text>
<g transform="translate(1297,1503.7) scale(0.88,1)"><text x="0 9.4 19.5 29.6 38.7 46.6 54.5 62.4" y="0" font-family="Liberation Sans" font-size="13.2" font-weight="normal" font-style="normal" fill="#1a1a1a" >ECN:3907</text></g>
<text x="1367.6" y="1491.5" font-family="Liberation Sans" font-size="9.2" font-weight="bold" font-style="normal" fill="#1a1a1a" text-anchor="start" textLength="13.4" lengthAdjust="spacingAndGlyphs" >BY:</text>
<text x="1367.6" y="1503.5" font-family="Liberation Sans" font-size="12.1" font-weight="bold" font-style="normal" fill="#1a1a1a" text-anchor="start" textLength="17.4" lengthAdjust="spacingAndGlyphs" >HM</text>
<text x="1240.8" y="1514.6" font-family="Liberation Sans" font-size="9.2" font-weight="bold" font-style="normal" fill="#1a1a1a" text-anchor="start" textLength="34" lengthAdjust="spacingAndGlyphs" >DRAWN:</text>
<text x="1240.8" y="1526.4" font-family="Liberation Sans" font-size="12.2" font-weight="bold" font-style="normal" fill="#1a1a1a" text-anchor="start" textLength="16.5" lengthAdjust="spacingAndGlyphs" >KH</text>
<text x="1303.5" y="1514.6" font-family="Liberation Sans" font-size="9.2" font-weight="bold" font-style="normal" fill="#1a1a1a" text-anchor="start" textLength="25.3" lengthAdjust="spacingAndGlyphs" >DATE:</text>
<line x1="1330.4" y1="1528.9" x2="1337.6" y2="1515.8" stroke="#1a1a1a" stroke-width="2.1" stroke-linecap="round"/>
<g transform="translate(1317,1526.4) scale(0.9,1)"><text x="0 7 23.4 30.4" y="0" font-family="Liberation Sans" font-size="13.2" font-weight="normal" font-style="normal" fill="#1a1a1a" >1096</text></g>
<text x="1367.6" y="1514.6" font-family="Liberation Sans" font-size="9.2" font-weight="bold" font-style="normal" fill="#1a1a1a" text-anchor="start" textLength="31.4" lengthAdjust="spacingAndGlyphs" >CHK'D.:</text>
<text x="1240.8" y="1538" font-family="Liberation Sans" font-size="9.2" font-weight="bold" font-style="normal" fill="#1a1a1a" text-anchor="start" textLength="49.7" lengthAdjust="spacingAndGlyphs" >APPROVED:</text>
<text x="1338.4" y="1538" font-family="Liberation Sans" font-size="9.2" font-weight="bold" font-style="normal" fill="#1a1a1a" text-anchor="start" textLength="24.8" lengthAdjust="spacingAndGlyphs" >DATE:</text>
<text x="1256.5" y="1496.5" font-family="Liberation Sans" font-size="8" font-weight="normal" font-style="normal" fill="#1a1a1a" text-anchor="start" >.</text>
<path d="M1299.8,1542.5 L1325.7,1531.4" fill="none" stroke="#666" stroke-width="1.2" stroke-linejoin="round" stroke-linecap="round" />
<path d="M1312,1556 C1316,1548 1322,1538 1327,1531.5 C1327,1537 1325,1542 1325.7,1544.3 C1329,1542 1332,1540 1335.5,1538" fill="none" stroke="#1a1a1a" stroke-width="2.3" stroke-linejoin="round" stroke-linecap="round" />
<path d="M1341.5,1540 C1344,1539 1346,1540 1345,1542 C1347,1543 1346,1545 1343,1545" fill="none" stroke="#555" stroke-width="1.1" stroke-linejoin="round" stroke-linecap="round" />
<path d="M1348.5,1546 C1351,1545 1355,1546 1356,1548.5 C1355,1551 1351,1551.5 1349,1550" fill="none" stroke="#1a1a1a" stroke-width="2" stroke-linejoin="round" stroke-linecap="round" />
<path d="M1351.5,1564.5 L1369,1522 L1372,1517" fill="none" stroke="#1a1a1a" stroke-width="2" stroke-linejoin="round" stroke-linecap="round" />
<path d="M1369.5,1561.5 C1375,1548 1381,1535 1386,1524 C1388,1519 1389.5,1516 1390,1514" fill="none" stroke="#1a1a1a" stroke-width="2.7" stroke-linejoin="round" stroke-linecap="round" />
<path d="M1370,1536 C1366,1540 1363.5,1546 1365,1550 C1367,1552 1371,1551 1371.5,1548 C1371,1545 1368,1545 1366,1547" fill="none" stroke="#1a1a1a" stroke-width="1.6" stroke-linejoin="round" stroke-linecap="round" />
<ellipse cx="1387" cy="1543" rx="3.2" ry="5.8" transform="rotate(15 1387 1543)" fill="none" stroke="#1a1a1a" stroke-width="2"/>
<path d="M1394.5,1535.5 L1404.5,1535 C1403,1541 1400,1547 1398,1552" fill="none" stroke="#1a1a1a" stroke-width="2" stroke-linejoin="round" stroke-linecap="round" />
<path d="M1368.5,1521 L1386,1513.5" fill="none" stroke="#1a1a1a" stroke-width="2" stroke-linejoin="round" stroke-linecap="round" />
<path d="M1392,1524 C1393,1521 1394,1519 1394.6,1518 M1392.5,1524.5 C1397,1521 1402,1518 1407,1515.5 C1411,1513 1415,1510.5 1419.3,1508.6" fill="none" stroke="#1a1a1a" stroke-width="2" stroke-linejoin="round" stroke-linecap="round" />
<g transform="translate(1411.8,1496.5) scale(0.9,1)"><text x="0 12.4 24.1 35 45.2 53.8 59.4 69.5 75.1" y="0" font-family="Liberation Sans" font-size="13.8" font-weight="normal" font-style="normal" fill="#1a1a1a" >MODEL(S):</text></g>
<g transform="translate(1411.8,1520.2) scale(1.0,1)"><text x="0 13.1 26.2 39.2 52.3 65.4" y="0" font-family="Liberation Sans" font-size="23.3" font-weight="normal" font-style="normal" fill="#1a1a1a" >5060LF</text></g>
<g transform="translate(1411.8,1538.2) scale(0.9,1)"><text x="0 4.9 16 25.6 43.9 53.5 63.8 80.6 91.7 103.6" y="0" font-family="Liberation Sans" font-size="13.8" font-weight="normal" font-style="normal" fill="#1a1a1a" >INFOFAXDOC</text></g>
<g transform="translate(1524.5,1538.2) scale(0.9,1)"><text x="0 7.8" y="0" font-family="Liberation Sans" font-size="13.8" font-weight="normal" font-style="normal" fill="#1a1a1a" >#:</text></g>
<g transform="translate(1542.5,1538.2) scale(1.0,1)"><text x="0 11 22 33 44 55 66" y="0" font-family="Liberation Sans" font-size="19.2" font-weight="normal" font-style="normal" fill="#1a1a1a" >2506053</text></g>
<text x="1411.8" y="1550.5" font-family="Liberation Sans" font-size="9.6" font-weight="bold" font-style="normal" fill="#1a1a1a" text-anchor="start" textLength="61.6" lengthAdjust="spacingAndGlyphs" >SCALE:  1:2</text>
<text x="1522.6" y="1550.5" font-family="Liberation Sans" font-size="9.6" font-weight="bold" font-style="normal" fill="#1a1a1a" text-anchor="start" textLength="220.9" lengthAdjust="spacingAndGlyphs" >DRAWING TYPE:   INSTALLATION/FAXBACK</text>
<text x="1863.5" y="1491.8" font-family="Liberation Sans" font-size="8" font-weight="bold" font-style="normal" fill="#1a1a1a" text-anchor="start" textLength="66.8" lengthAdjust="spacingAndGlyphs" >PART NUMBER:</text>
<g transform="translate(1863.5,1507.8) scale(1.04,1)"><text x="0 11.6 23.2 34.8 46.4 58 69.7 81.3 92.9 104.5" y="0" font-family="Liberation Sans" font-size="19.8" font-weight="normal" font-style="normal" fill="#1a1a1a" >0002077536</text></g>
<text x="1863.5" y="1519.7" font-family="Liberation Sans" font-size="8" font-weight="bold" font-style="normal" fill="#1a1a1a" text-anchor="start" textLength="81" lengthAdjust="spacingAndGlyphs" >DRAWING NUMBER:</text>
<g transform="translate(1863.5,1535.6) scale(1.04,1)"><text x="0 11.2 22.4 33.6 44.8 56 69.3 80.5" y="0" font-family="Liberation Sans" font-size="18.9" font-weight="normal" font-style="normal" fill="#1a1a1a" >12643A00</text></g>
<text x="1994.8" y="1519.7" font-family="Liberation Sans" font-size="8" font-weight="bold" font-style="normal" fill="#1a1a1a" text-anchor="start" textLength="19" lengthAdjust="spacingAndGlyphs" >REV.</text>
<text x="1996" y="1535.6" font-family="Liberation Sans" font-size="18.9" font-weight="normal" font-style="normal" fill="#1a1a1a" text-anchor="start" textLength="10.7" lengthAdjust="spacingAndGlyphs" >3</text>
<text x="1862.9" y="1549.2" font-family="Liberation Sans" font-size="9.4" font-weight="bold" font-style="normal" fill="#1a1a1a" text-anchor="start" textLength="20.7" lengthAdjust="spacingAndGlyphs" >SIZE:</text>
<text x="1893.6" y="1550.4" font-family="Liberation Sans" font-size="12.8" font-weight="normal" font-style="normal" fill="#1a1a1a" text-anchor="start" textLength="8.3" lengthAdjust="spacingAndGlyphs" >A</text>
<text x="1925" y="1549.2" font-family="Liberation Sans" font-size="9.4" font-weight="bold" font-style="normal" fill="#1a1a1a" text-anchor="start" textLength="18.4" lengthAdjust="spacingAndGlyphs" >SHT.</text>
<text x="1958.7" y="1550.4" font-family="Liberation Sans" font-size="12.8" font-weight="normal" font-style="normal" fill="#1a1a1a" text-anchor="start" >1</text>
<text x="1972.4" y="1549.2" font-family="Liberation Sans" font-size="9.4" font-weight="bold" font-style="normal" fill="#1a1a1a" text-anchor="start" textLength="10.6" lengthAdjust="spacingAndGlyphs" >OF</text>
<text x="1994.8" y="1550.4" font-family="Liberation Sans" font-size="12.8" font-weight="normal" font-style="normal" fill="#1a1a1a" text-anchor="start" >1</text>
<path d="M33,1596.5 C35,1594.5 37,1593 37.8,1590.5 C36.5,1590.6 35,1591.2 34,1591.6 M37.4,1588.4 C38.8,1587.6 39.8,1586.5 39.3,1584.4" fill="none" stroke="#555" stroke-width="1.2" stroke-linejoin="round" stroke-linecap="round" />
</svg>
</body></html>
